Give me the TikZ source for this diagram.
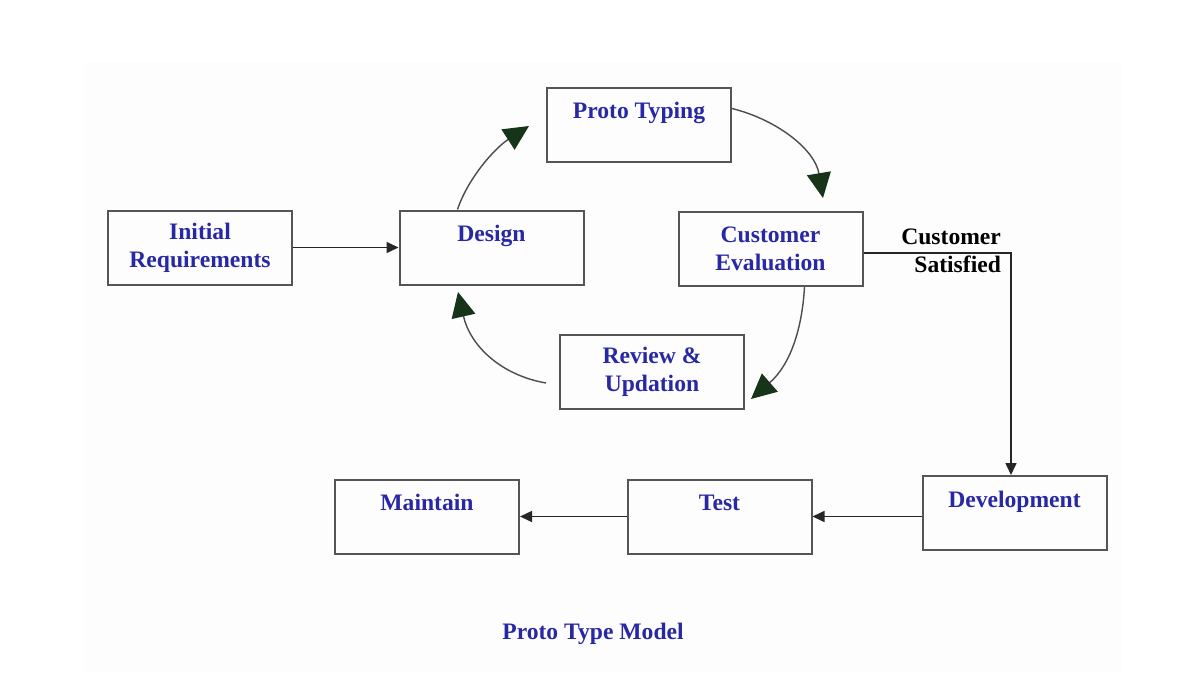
\documentclass[tikz,border=0pt]{standalone}
\usepackage{fontspec}
\setmainfont{Liberation Serif}
\usetikzlibrary{arrows.meta}
\definecolor{azul}{RGB}{40,40,165}
\definecolor{verde}{RGB}{22,52,24}
\definecolor{borde}{RGB}{85,85,85}
\definecolor{fondo}{RGB}{253,253,253}
\tikzset{
  caja/.style={draw=borde, line width=1pt, minimum width=92pt, minimum height=37pt,
    align=center, text=azul, font=\bfseries\fontsize{11.8}{14}\selectfont},
  flecha/.style={line width=0.8pt, draw=black!85, -{Triangle[length=6pt,width=5.5pt]}},
  curva/.style={line width=0.7pt, draw=black!70, -{Triangle[length=12.5pt,width=12pt,color=verde,fill=verde]}}
}
\begin{document}
\begin{tikzpicture}[x=0.5pt,y=-0.5pt]
    % Marco de la figura
    \useasboundingbox (0,0) rectangle (1196,686);
    \fill[fondo] (84,62) rectangle (1122,672);

    % Definir coordenadas de las puntas
    \coordinate (T1) at (529,126);
    \coordinate (T2) at (823,198);
    \coordinate (T3) at (751,399);
    \coordinate (T4) at (458,292);

    % Cajas principales
    \node[caja] (ini) at (200,247.5) {Initial\\Requirements};
    \node[caja] (dis) at (491.5,247.5) {Design\\\mbox{}};
    \node[caja] (proto) at (639,124.5) {Proto Typing\\\mbox{}};
    \node[caja] (eval) at (770.5,249) {Customer\\Evaluation};
    \node[caja] (rev) at (652,372) {Review \&\\Updation};
    \node[caja] (dev) at (1014.5,513) {Development\\\mbox{}};
    \node[caja] (test) at (719.5,516.5) {Test\\\mbox{}};
    \node[caja] (mant) at (427,516.5) {Maintain\\\mbox{}};

    % Flechas rectas
    \draw[flecha] (ini) -- (dis);
    \draw[flecha] ([yshift=-2pt]eval.east) -| ([xshift=-1.75pt]dev.north);
    \draw[flecha] (dev.west |- test.east) -- (test.east);
    \draw[flecha] (test) -- (mant);

    % Etiqueta de la condicion
    \node[align=right, anchor=east, font=\bfseries\fontsize{11.8}{14}\selectfont] (sat) at (1008,251) {Customer\\Satisfied};

    % Ciclo de prototipos (arcos)
    \draw[curva] ([xshift=-17pt]dis.north) .. controls (468,178) and (495,148) .. (T1);
    \draw[curva] ([yshift=8pt]proto.east) .. controls (778,120) and (815,150) .. (T2);
    \draw[curva] ([xshift=17pt]eval.south) .. controls (802,330) and (790,365) .. (T3);
    \draw[curva] ([xshift=-6.5pt,yshift=-5.5pt]rev.west) .. controls (500,375) and (470,345) .. (T4);

    % Titulo
    \node[text=azul, font=\bfseries\fontsize{11.8}{14}\selectfont] (titulo) at (593,634) {Proto Type Model};
\end{tikzpicture}
\end{document}
